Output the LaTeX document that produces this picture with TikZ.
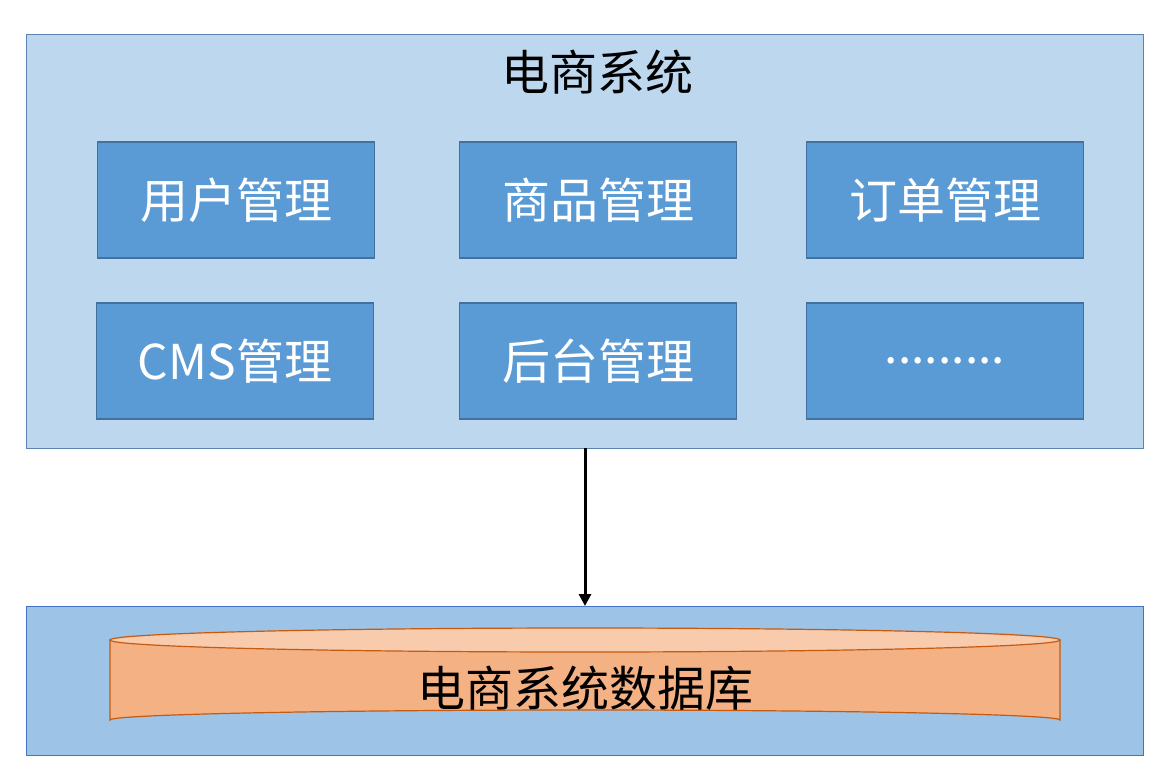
\documentclass[tikz,border=0pt]{standalone}
\usepackage{fontspec}
\setmainfont{Noto Sans CJK SC}
\usetikzlibrary{arrows.meta,shapes.geometric}
\definecolor{outerfill}{HTML}{BDD7EE}
\definecolor{outerline}{HTML}{5B84B1}
\definecolor{innerfill}{HTML}{5B9BD5}
\definecolor{innerline}{HTML}{41719C}
\definecolor{dbbox}{HTML}{9DC3E6}
\definecolor{dbboxline}{HTML}{4472C4}
\definecolor{cylfill}{HTML}{F4B183}
\definecolor{cyltop}{HTML}{F8CBAD}
\definecolor{cylline}{HTML}{C55A11}
\tikzset{
  modbox/.style={draw=innerline, line width=1.2pt, fill=innerfill, minimum width=277pt, minimum height=116pt, inner sep=0pt, text=white, font=\fontsize{48}{52}\selectfont},
}
\begin{document}
\begin{tikzpicture}[x=1pt,y=-1pt]
\useasboundingbox (0,0) rectangle (1164,774);
% outer system box
\node[draw=outerline, line width=1.2pt, fill=outerfill, minimum width=1117pt, minimum height=414pt, inner sep=0pt, anchor=north west] (sys) at (26,34) {};
\node[font=\fontsize{48}{52}\selectfont] (title) at (597,72) {电商系统};
% modules
\node[modbox] (m1) at (236,200) {用户管理};
\node[modbox] (m2) at (598,200) {商品管理};
\node[modbox] (m3) at (945,200) {订单管理};
\node[modbox] (m4) at (235,361) {CMS管理};
\node[modbox] (m5) at (598,361) {后台管理};
\node[modbox] (m6) at (945,361) {.........};
% database box
\node[draw=dbboxline, line width=1.2pt, fill=dbbox, minimum width=1117pt, minimum height=149pt, inner sep=0pt, anchor=north west] (dbb) at (26,606) {};
% cylinder
\fill[cylfill, draw=cylline, line width=1.2pt] (110,640) -- (110,720) arc[start angle=180, end angle=360, x radius=475, y radius=10] -- (1060,640) -- cycle;
\draw[cylline, line width=1.2pt, fill=cyltop] (585,640) ellipse[x radius=475, y radius=12];
\node[font=\fontsize{48}{52}\selectfont] (db) at (585,688) {电商系统数据库};
% arrow
\coordinate (a1) at (585,448);
\draw[-{Triangle[length=12pt,width=12pt]}, line width=3pt] (a1) -- (dbb.north -| a1);
\end{tikzpicture}
\end{document}
